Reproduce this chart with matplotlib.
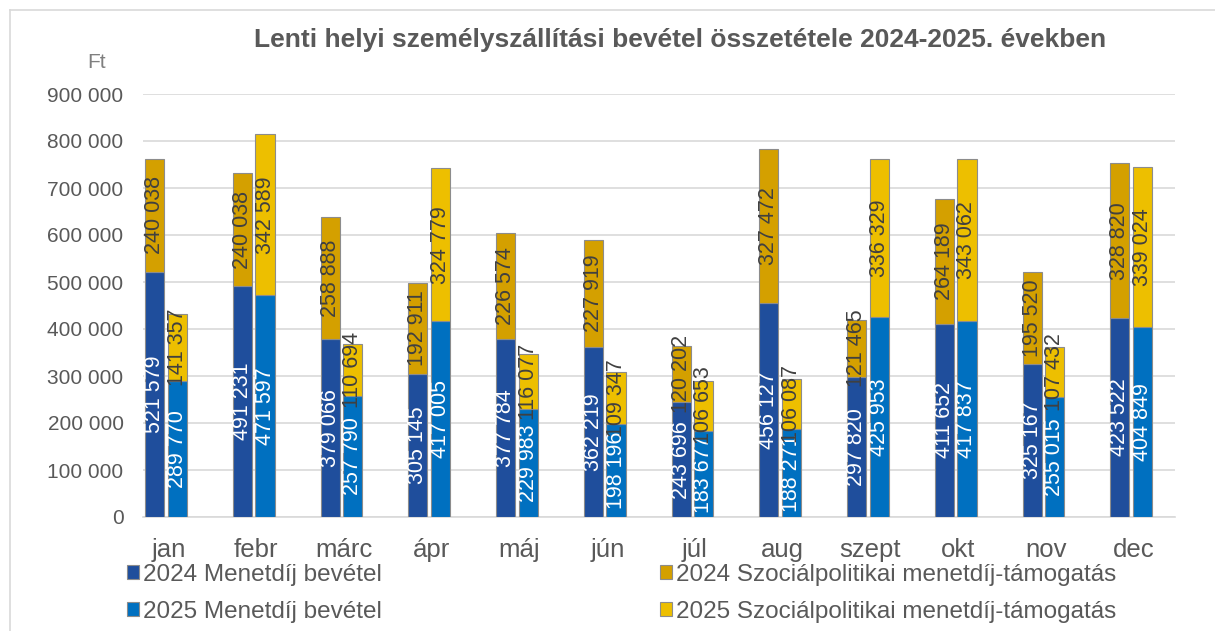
import numpy as np
import matplotlib
matplotlib.use("Agg")
import matplotlib.pyplot as plt
from matplotlib.lines import Line2D

plt.rcParams['font.family'] = ['Liberation Sans', 'DejaVu Sans']

months = ["jan", "febr", "márc", "ápr", "máj", "jún", "júl", "aug", "szept", "okt", "nov", "dec"]
menet_2024 = [521579, 491231, 379066, 305145, 377784, 362219, 243696, 456127, 297820, 411652, 325167, 423522]
szoc_2024 = [240038, 240038, 258888, 192911, 226574, 227919, 120202, 327472, 121465, 264189, 195520, 328820]
menet_2025 = [289770, 471597, 257790, 417005, 229983, 198196, 183677, 188271, 425953, 417837, 255015, 404849]
szoc_2025 = [141357, 342589, 110694, 324779, 116077, 109347, 106653, 106087, 336329, 343062, 107432, 339024]

c_m24 = "#1f4e9c"
c_m25 = "#0070c0"
c_s24 = "#d4a000"
c_s25 = "#edbf00"
grey = "#595959"

W, H = 1215, 631
fig = plt.figure(figsize=(W / 100, H / 100), dpi=100)
ax = fig.add_axes([143 / W, 1 - 517 / H, (1175 - 143) / W, (517 - 94) / H])

x = np.arange(len(months))
bw = 0.218
off = 0.129
edge = dict(edgecolor="#8c8c8c", linewidth=0.8)

b1 = ax.bar(x - off, menet_2024, bw, color=c_m24, label="2024 Menetdíj bevétel", zorder=3, **edge)
b2 = ax.bar(x - off, szoc_2024, bw, bottom=menet_2024, color=c_s24,
            label="2024 Szociálpolitikai menetdíj-támogatás", zorder=3, **edge)
b3 = ax.bar(x + off, menet_2025, bw, color=c_m25, label="2025 Menetdíj bevétel", zorder=3, **edge)
b4 = ax.bar(x + off, szoc_2025, bw, bottom=menet_2025, color=c_s25,
            label="2025 Szociálpolitikai menetdíj-támogatás", zorder=3, **edge)

def fmt(vals):
    return [f"{v:,}".replace(",", " ") for v in vals]

for cont, vals, col in [(b1, menet_2024, "white"), (b2, szoc_2024, "#404040"),
                        (b3, menet_2025, "white"), (b4, szoc_2025, "#404040")]:
    ax.bar_label(cont, labels=fmt(vals), label_type="center", rotation=90,
                 color=col, fontsize=15.5, zorder=5)

ax.set_ylim(0, 900000)
ax.set_xlim(-0.262, 11.5)
ax.set_yticks(np.arange(0, 900001, 100000))
ax.set_yticklabels(fmt(np.arange(0, 900001, 100000)), fontsize=15, color=grey)
ax.set_xticks(x + 0.03)
ax.set_xticklabels(months, fontsize=18.5, color=grey)
ax.tick_params(length=0, pad=14)
ax.tick_params(axis="x", pad=15)
ax.grid(axis="y", color="#d9d9d9", linewidth=1.2, zorder=0)
for s in ["top", "right", "left"]:
    ax.spines[s].set_visible(False)
ax.spines["bottom"].set_color("#d9d9d9")
ax.spines["bottom"].set_linewidth(1.2)

fig.text(680 / W, 1 - 40 / H, "Lenti helyi személyszállítási bevétel összetétele 2024-2025. években",
         ha="center", va="center", fontsize=19, fontweight="bold", color=grey)
fig.text(97 / W, 1 - 62 / H, "Ft", ha="center", va="center", fontsize=15, color="#7f7f7f")

# chart frame (top and left edges visible)
fig.add_artist(Line2D([10 / W, 1], [1 - 10 / H, 1 - 10 / H], color="#d9d9d9", lw=1.2))
fig.add_artist(Line2D([10 / W, 10 / W], [0, 1 - 10 / H], color="#d9d9d9", lw=1.2))

leg_kw = dict(frameon=False, fontsize=17.5, handlelength=0.5, handleheight=0.5,
              handletextpad=0.15, labelspacing=0.6, labelcolor=grey, loc="upper left",
              borderaxespad=0, borderpad=0)
fig.legend([b1, b3], [b1.get_label(), b3.get_label()], bbox_to_anchor=(127 / W, 1 - 564 / H), **leg_kw)
fig.legend([b2, b4], [b2.get_label(), b4.get_label()], bbox_to_anchor=(660 / W, 1 - 564 / H), **leg_kw)

fig.savefig("out.png", dpi=100)
